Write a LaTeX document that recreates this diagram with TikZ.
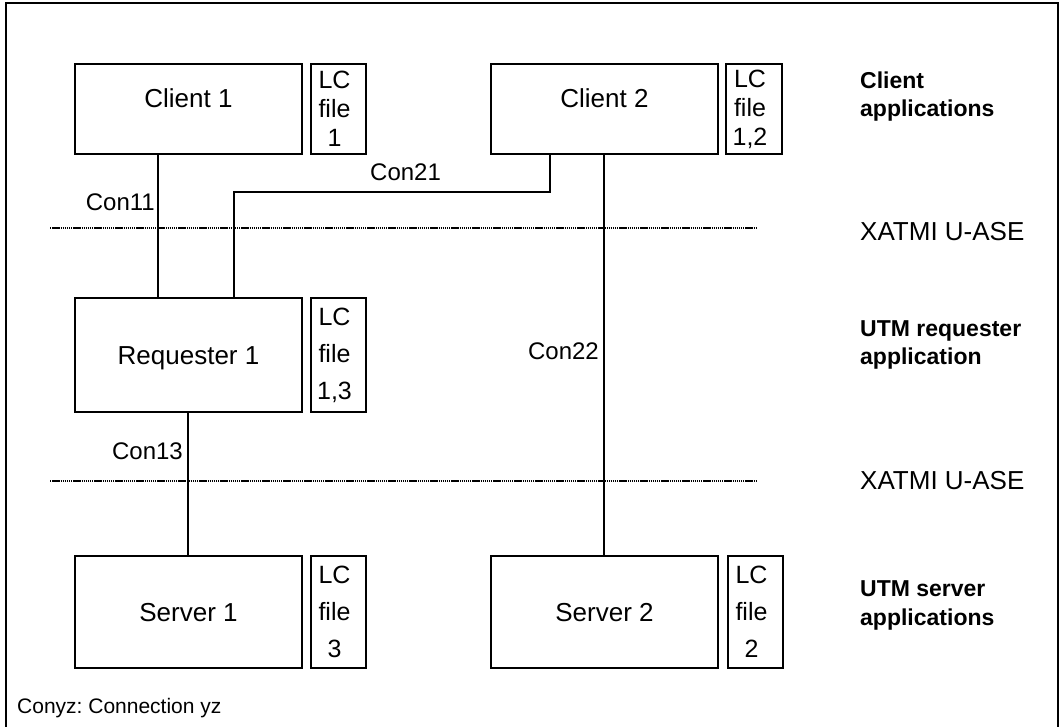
\documentclass[tikz,border=0pt]{standalone}
\usepackage{fontspec}
\setmainfont{Liberation Sans}
\begin{document}
\begin{tikzpicture}[x=1pt,y=-1pt,
  box/.style={draw, line width=1.8pt, inner sep=0pt, minimum width=227pt, font=\fontsize{26}{30}\selectfont, text height=18.5pt, text depth=0pt},
  lcbox/.style={draw, line width=1.8pt, inner sep=0pt, minimum width=55pt},
  lctext/.style={align=center, inner sep=0pt, xshift=-4pt, font=\fontsize{25}{37}\selectfont},
  lctextc/.style={lctext, font=\fontsize{25}{29}\selectfont},
  conn/.style={line width=2pt},
  conlbl/.style={inner sep=0pt, font=\fontsize{24}{28}\selectfont},
  layerlbl/.style={inner sep=0pt, anchor=west, font=\fontsize{26}{30}\selectfont},
  applbl/.style={inner sep=0pt, anchor=west, align=left, font=\bfseries\fontsize{23}{28.5}\selectfont},
  sepline/.style={line width=1.8pt, dash pattern=on 1.4pt off 0.7pt},
]
\useasboundingbox (0,0) rectangle (1061,727);
% frame
\draw[line width=1.5pt] (6,727) -- (6,3) -- (1058,3) -- (1058,727);

% separators
\coordinate (s1a) at (50,228);
\coordinate (s1b) at (756,228);
\coordinate (s2a) at (50,481);
\coordinate (s2b) at (757,481);
\draw[sepline] (s1a) -- (s1b);
\draw[sepline] (s2a) -- (s2b);

% client row
\node[box, minimum height=90pt, text depth=20.5pt] (c1) at (188.5,109) {Client 1};
\node[lcbox, minimum height=90pt, label={[lctextc]center:{LC\\file\\1}}] (lc1) at (338.5,109) {};
\node[box, minimum height=90pt, text depth=20.5pt] (c2) at (604.5,109) {Client 2};
\node[lcbox, minimum height=90pt, minimum width=56pt, label={[lctextc]center:{LC\\file\\1,2}}] (lc2) at (754,109) {};

% requester row
\node[box, minimum height=114pt] (r1) at (188.5,355) {Requester 1};
\node[lcbox, minimum height=114pt, label={[lctext]center:{LC\\file\\1,3}}] (lcr) at (338.5,355) {};

% server row
\node[box, minimum height=112pt] (sv1) at (188.5,612) {Server 1};
\node[lcbox, minimum height=112pt, label={[lctext]center:{LC\\file\\3}}] (lcs1) at (338.5,612) {};
\node[box, minimum height=112pt] (sv2) at (604.5,612) {Server 2};
\node[lcbox, minimum height=112pt, label={[lctext]center:{LC\\file\\2}}] (lcs2) at (755.5,612) {};

% connections
\draw[conn] ([xshift=-30.5pt]c1.south) -- ([xshift=-30.5pt]r1.north);
\draw[conn] ([xshift=45.5pt]r1.north) -- ++(0,-105) -| ([xshift=-54.5pt]c2.south);
\draw[conn] ([xshift=-0.5pt]r1.south) -- ([xshift=-0.5pt]sv1.north);
\draw[line width=1.8pt] ([xshift=-0.5pt]c2.south) -- ([xshift=-0.5pt]sv2.north);

% connection labels
\node[conlbl, anchor=east] (l11) at (155,202) {Con11};
\node[conlbl, anchor=west] (l21) at (370,172.5) {Con21};
\node[conlbl, anchor=east] (l13) at (183,451.5) {Con13};
\node[conlbl, anchor=east] (l22) at (599,351.5) {Con22};
\node[inner sep=0pt, anchor=base west, font=\fontsize{21}{25}\selectfont] (legend) at (17,713) {\frenchspacing Conyz: Connection yz};

% layer labels
\node[applbl] (a1) at (860,96.5) {Client\\applications};
\node[layerlbl] (x1) at (860,232) {XATMI U-ASE};
\node[applbl] (a2) at (860,345) {UTM requester\\application};
\node[layerlbl] (x2) at (860,481) {XATMI U-ASE};
\node[applbl] (a3) at (860,605.5) {UTM server\\applications};
\end{tikzpicture}
\end{document}
